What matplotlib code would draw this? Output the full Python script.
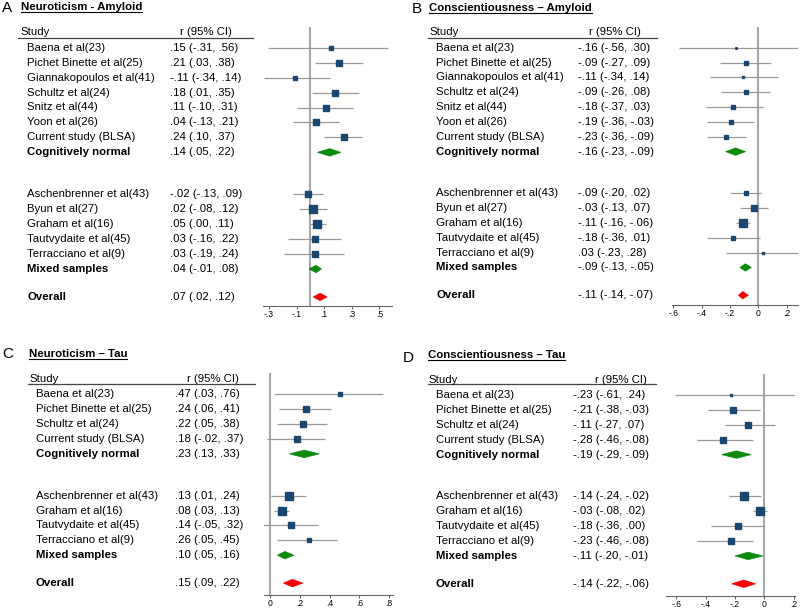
import matplotlib
matplotlib.use('Agg')
import matplotlib.pyplot as plt
from matplotlib.patches import Polygon
from matplotlib.lines import Line2D
from matplotlib.transforms import blended_transform_factory
from matplotlib.ticker import FuncFormatter
import numpy as np

plt.rcParams['font.family'] = ['Liberation Sans', 'DejaVu Sans']

# ---- study names ----
amy_cn_studies = ['Baena et al(23)', 'Pichet Binette et al(25)', 'Giannakopoulos et al(41)',
                  'Schultz et al(24)', 'Snitz et al(44)', 'Yoon et al(26)', 'Current study (BLSA)']
amy_mixed_studies = ['Aschenbrenner et al(43)', 'Byun et al(27)', 'Graham et al(16)',
                     'Tautvydaite et al(45)', 'Terracciano et al(9)']
tau_cn_studies = ['Baena et al(23)', 'Pichet Binette et al(25)', 'Schultz et al(24)',
                  'Current study (BLSA)']
tau_mixed_studies = ['Aschenbrenner et al(43)', 'Graham et al(16)', 'Tautvydaite et al(45)',
                     'Terracciano et al(9)']
pool_labels = ['Cognitively normal', 'Mixed samples', 'Overall']

# ---- A: neuroticism - amyloid ----
neur_amy_r  = [.15, .21, -.11, .18, .11, .04, .24, -.02, .02, .05, .03, .03]
neur_amy_lo = [-.31, .03, -.34, .01, -.10, -.13, .10, -.13, -.08, .00, -.16, -.19]
neur_amy_hi = [.56, .38, .14, .35, .31, .21, .37, .09, .12, .11, .22, .24]
neur_amy_w  = [2.7, 7.0, 4.0, 7.5, 6.2, 6.2, 10.4, 10.4, 13.9, 17.9, 7.5, 6.2]
neur_amy_pool_r  = [.14, .04, .07]
neur_amy_pool_lo = [.05, -.01, .02]
neur_amy_pool_hi = [.22, .08, .12]

# ---- B: conscientiousness - amyloid ----
cons_amy_r  = [-.16, -.09, -.11, -.09, -.18, -.19, -.23, -.09, -.03, -.11, -.18, .03]
cons_amy_lo = [-.56, -.27, -.34, -.26, -.37, -.36, -.36, -.20, -.13, -.16, -.36, -.23]
cons_amy_hi = [.30, .09, .14, .08, .03, -.03, -.09, .02, .07, -.06, .01, .28]
cons_amy_w  = [1.2, 4.7, 3.3, 4.7, 4.7, 4.7, 8.4, 10.5, 13.1, 37.8, 4.7, 2.1]
cons_amy_pool_r  = [-.16, -.09, -.11]
cons_amy_pool_lo = [-.23, -.13, -.14]
cons_amy_pool_hi = [-.09, -.05, -.07]

# ---- C: neuroticism - tau ----
neur_tau_r  = [.47, .24, .22, .18, .13, .08, .14, .26]
neur_tau_lo = [.03, .06, .05, -.02, .01, .03, -.05, .05]
neur_tau_hi = [.76, .41, .38, .37, .24, .13, .32, .45]
neur_tau_w  = [3.5, 11.5, 11.5, 9.6, 18.8, 27.7, 9.6, 7.7]
neur_tau_pool_r  = [.23, .10, .15]
neur_tau_pool_lo = [.13, .05, .09]
neur_tau_pool_hi = [.33, .16, .22]

# ---- D: conscientiousness - tau ----
cons_tau_r  = [-.23, -.21, -.11, -.28, -.14, -.03, -.18, -.23]
cons_tau_lo = [-.61, -.38, -.27, -.46, -.24, -.08, -.36, -.46]
cons_tau_hi = [.24, -.03, .07, -.08, -.02, .02, .00, -.08]
cons_tau_w  = [2.8, 11.3, 11.3, 11.3, 17.5, 25.3, 11.3, 9.4]
cons_tau_pool_r  = [-.19, -.11, -.14]
cons_tau_pool_lo = [-.29, -.20, -.22]
cons_tau_pool_hi = [-.09, -.01, -.06]

W, H = 800, 608
NAVY = '#1a476f'
GREEN = '#0b8a0b'
RED = '#f50000'
CI_GREY = '#9a9a9a'


def short(v):
    s = f"{v:.2f}"
    return s.replace('0.', '.', 1)


def ci_text(r, lo, hi):
    return f"{short(r)} ({short(lo)}, {short(hi)})"


def tick_fmt(v, pos):
    if abs(v) < 1e-9:
        return '0'
    s = f"{v:.1f}"
    return s.replace('0.', '.', 1)


panels = [
    dict(letter='A', title='Neuroticism - Amyloid', cn=amy_cn_studies, mixed=amy_mixed_studies,
         r=neur_amy_r, lo=neur_amy_lo, hi=neur_amy_hi, w=neur_amy_w,
         pr=neur_amy_pool_r, plo=neur_amy_pool_lo, phi=neur_amy_pool_hi,
         letter_xy=(2, 12), title_xy=(20.7, 10), hdr_x=20, name_x=27.3, ci_x=170, hdr_r=232,
         hline=(18, 253, 37.7), ax_x=(263, 392), top=26.7, bottom=306, row0=47.7, step=14.95,
         xlim=(-0.344, 0.591), ticks=[-.3, -.1, .1, .3, .5]),
    dict(letter='B', title='Conscientiousness \u2013 Amyloid', cn=amy_cn_studies, mixed=amy_mixed_studies,
         r=cons_amy_r, lo=cons_amy_lo, hi=cons_amy_hi, w=cons_amy_w,
         pr=cons_amy_pool_r, plo=cons_amy_pool_lo, phi=cons_amy_pool_hi,
         letter_xy=(412, 12.7), title_xy=(429, 11), hdr_x=429, name_x=436, ci_x=578, hdr_r=640.7,
         hline=(428, 657, 37.7), ax_x=(671.7, 798), top=26.7, bottom=305, row0=47.7, step=14.85,
         xlim=(-0.611, 0.280), ticks=[-.6, -.4, -.2, 0, .2]),
    dict(letter='C', title='Neuroticism \u2013 Tau', cn=tau_cn_studies, mixed=tau_mixed_studies,
         r=neur_tau_r, lo=neur_tau_lo, hi=neur_tau_hi, w=neur_tau_w,
         pr=neur_tau_pool_r, plo=neur_tau_pool_lo, phi=neur_tau_pool_hi,
         letter_xy=(2, 358.3), title_xy=(29, 357), hdr_x=29, name_x=36, ci_x=175, hdr_r=239,
         hline=(28, 255, 384.3), ax_x=(264, 392.7), top=372.7, bottom=595, row0=394.3, step=14.9,
         xlim=(-0.040, 0.823), ticks=[0, .2, .4, .6, .8]),
    dict(letter='D', title='Conscientiousness \u2013 Tau', cn=tau_cn_studies, mixed=tau_mixed_studies,
         r=cons_tau_r, lo=cons_tau_lo, hi=cons_tau_hi, w=cons_tau_w,
         pr=cons_tau_pool_r, plo=cons_tau_pool_lo, phi=cons_tau_pool_hi,
         letter_xy=(403, 361.7), title_xy=(428, 358.5), hdr_x=428, name_x=435.7, ci_x=573.3, hdr_r=646.7,
         hline=(428, 656, 384.3), ax_x=(666, 795), top=374, bottom=595.7, row0=395, step=14.9,
         xlim=(-0.669, 0.209), ticks=[-.6, -.4, -.2, 0, .2]),
]

fig = plt.figure(figsize=(W / 100, H / 100), dpi=100)
fs = 8.2
titles = []

for p in panels:
    x0, x1 = p['ax_x']
    ax = fig.add_axes([x0 / W, 1 - p['bottom'] / H, (x1 - x0) / W, (p['bottom'] - p['top']) / H])
    row0, step = p['row0'], p['step']
    ax.set_ylim((p['bottom'] - row0) / step, (p['top'] - row0) / step)
    ax.set_xlim(*p['xlim'])

    n1, n2 = len(p['cn']), len(p['mixed'])
    y_cn = np.arange(n1)
    start2 = n1 + 2.8
    y_mixed = start2 + np.arange(n2)
    y_pool = [n1, start2 + n2, start2 + n2 + 1.87]
    y_st = np.concatenate([y_cn, y_mixed])
    names = p['cn'] + p['mixed']

    ax.axvline(0, color='#a8a8a8', lw=1.5, zorder=1)
    ax.hlines(y_st, p['lo'], p['hi'], color=CI_GREY, lw=0.9, zorder=2)
    w = np.array(p['w'])
    sides = 8.8 * np.sqrt(w / w.max()) * 0.72
    for xi, yi, si in zip(p['r'], y_st, sides):
        ax.plot(xi, yi, marker='s', ms=si, color=NAVY, mec=NAVY, ls='none', zorder=3)

    h = 0.25
    for k, (r, lo, hi) in enumerate(zip(p['pr'], p['plo'], p['phi'])):
        col = RED if k == 2 else GREEN
        yk = y_pool[k]
        ax.add_patch(Polygon([(lo, yk), (r, yk - h), (hi, yk), (r, yk + h)],
                             closed=True, fc=col, ec=col, lw=0.5, zorder=3))

    for s in ['top', 'right', 'left']:
        ax.spines[s].set_visible(False)
    ax.spines['bottom'].set_color('#666666')
    ax.spines['bottom'].set_linewidth(0.8)
    ax.set_yticks([])
    ax.set_xticks(p['ticks'])
    ax.xaxis.set_major_formatter(FuncFormatter(tick_fmt))
    ax.tick_params(axis='x', length=2.2, width=0.8, color='#666666', labelsize=6.2, pad=0.6)
    ax.patch.set_alpha(0)

    tr = blended_transform_factory(fig.transFigure, ax.transData)
    for name, yi, r, lo, hi in zip(names, y_st, p['r'], p['lo'], p['hi']):
        fig.text(p['name_x'] / W, yi, name, transform=tr, fontsize=fs, va='center')
        fig.text(p['ci_x'] / W, yi, ci_text(r, lo, hi), transform=tr, fontsize=fs, va='center')
    for lab, yi, r, lo, hi in zip(pool_labels, y_pool, p['pr'], p['plo'], p['phi']):
        fig.text(p['name_x'] / W, yi, lab, transform=tr, fontsize=fs, va='center', weight='bold')
        fig.text(p['ci_x'] / W, yi, ci_text(r, lo, hi), transform=tr, fontsize=fs, va='center')

    y_hdr = -1.03
    fig.text(p['hdr_x'] / W, y_hdr, 'Study', transform=tr, fontsize=fs, va='center')
    fig.text(p['hdr_r'] / W, y_hdr, 'r (95% CI)', transform=tr, fontsize=fs, va='center', ha='right')
    hx0, hx1, hy = p['hline']
    fig.add_artist(Line2D([hx0 / W, hx1 / W], [1 - hy / H, 1 - hy / H], color='#444444', lw=0.9))

    lx, ly = p['letter_xy']
    fig.text(lx / W, 1 - ly / H, p['letter'], fontsize=11, va='baseline')
    tx, ty = p['title_xy']
    t = fig.text(tx / W, 1 - ty / H, p['title'], fontsize=fs, weight='bold', va='baseline')
    titles.append((t, ty))

# underline the panel titles
fig.canvas.draw()
for t, ty in titles:
    bb = t.get_window_extent()
    yy = 1 - (ty + 1.8) / H
    fig.add_artist(Line2D([bb.x0 / W, bb.x1 / W], [yy, yy], color='black', lw=0.8))

fig.savefig('out.png', dpi=100)
